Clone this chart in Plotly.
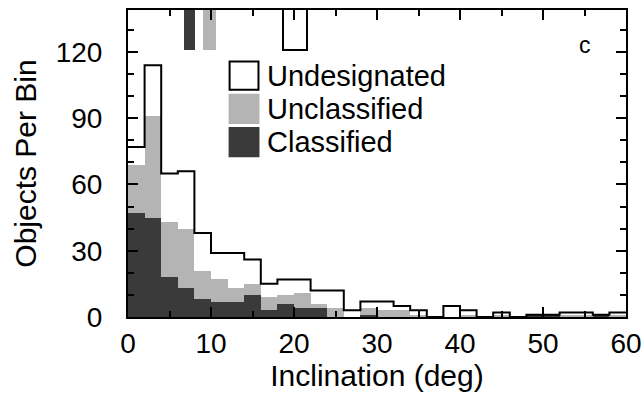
import numpy as np
import plotly.graph_objects as go

# ---- data (2-degree inclination bins, 0..60 deg) ----
bin_left = list(range(0, 60, 2))
total_counts = [77, 114, 65, 66, 38, 29, 29, 26, 15, 17, 17, 12, 12, 3, 7,
                7, 5, 3, 0, 5, 3, 0, 2, 0, 1, 1, 2, 2, 1, 2]          # Undesignated (envelope)
unclassified_top = [69, 91, 43, 40, 21, 17, 13, 15, 9, 10, 11, 6, 4, 0, 4,
                    3, 3, 1, 0, 0, 1, 0, 1, 0, 1, 1, 1, 1, 1, 1]      # Classified + Unclassified
classified_counts = [47, 45, 18, 13, 8, 7, 7, 10, 3, 6, 4, 4, 0, 0, 1,
                     0, 0, 0, 0, 0, 0, 0, 0, 0, 1, 1, 0, 0, 1, 0]

# small marks hanging from the top frame
top_mark_left = [6.7, 9.0, 18.7]
top_mark_right = [8.05, 10.55, 21.6]
top_mark_base = 121
top_mark_colors = ["#3a3a3a", "#b4b4b4", "white"]

legend_labels = ["Undesignated", "Unclassified", "Classified"]
panel_label = "c"

DARK = "#3a3a3a"
GRAY = "#b4b4b4"
FONT = "Liberation Sans, Arial, Helvetica, sans-serif"

bin_w = 2
centers = [b + bin_w / 2 for b in bin_left]

fig = go.Figure()

fig.add_trace(go.Bar(x=centers, y=unclassified_top, width=bin_w,
                     marker=dict(color=GRAY, line=dict(width=0)), showlegend=False))
fig.add_trace(go.Bar(x=centers, y=classified_counts, width=bin_w,
                     marker=dict(color=DARK, line=dict(width=0)), showlegend=False))

# envelope step outline of the total (undesignated) histogram
edges = bin_left + [bin_left[-1] + bin_w]
fig.add_trace(go.Scatter(x=edges, y=total_counts + [total_counts[-1]],
                         mode="lines", line=dict(shape="hv", color="black", width=2),
                         showlegend=False))

# marks at top
tm_c = [(a + b) / 2 for a, b in zip(top_mark_left, top_mark_right)]
tm_w = [b - a for a, b in zip(top_mark_left, top_mark_right)]
for c, w, col in zip(tm_c, tm_w, top_mark_colors):
    fig.add_trace(go.Bar(x=[c], y=[30], base=top_mark_base, width=w,
                         marker=dict(color=col,
                                     line=dict(width=2 if col == "white" else 0, color="black")),
                         showlegend=False))

# manual legend
sw_x0, sw_x1 = 0.204, 0.262
sw_tops = [0.832, 0.724, 0.616]
sw_h = 0.092
fills = ["white", GRAY, DARK]
for top, fill, lab in zip(sw_tops, fills, legend_labels):
    fig.add_shape(type="rect", xref="paper", yref="paper", x0=sw_x0, x1=sw_x1,
                  y0=top - sw_h, y1=top, fillcolor=fill,
                  line=dict(color="black" if fill == "white" else fill, width=2))
    fig.add_annotation(xref="paper", yref="paper", x=0.276, y=top - sw_h / 2,
                       text=lab, showarrow=False, xanchor="left", yanchor="middle",
                       font=dict(family=FONT, size=29, color="black"))

fig.add_annotation(xref="paper", yref="paper", x=0.918, y=0.885, text=panel_label,
                   showarrow=False, xanchor="center", yanchor="middle",
                   font=dict(family=FONT, size=23, color="black"))

axis_common = dict(showline=True, linewidth=2, linecolor="black", mirror="ticks",
                   ticks="inside", tickcolor="black", tickwidth=1.5, ticklen=10,
                   showgrid=False, zeroline=False, automargin=False,
                   tickfont=dict(family=FONT, size=28, color="black"))

fig.update_layout(
    width=644, height=395,
    margin=dict(l=128, r=18, t=10, b=78),
    paper_bgcolor="white", plot_bgcolor="white",
    barmode="overlay", bargap=0,
    showlegend=False,
    xaxis=dict(range=[0, 60], dtick=10, tick0=0,
               minor=dict(dtick=5, ticks="inside", ticklen=6, tickcolor="black", tickwidth=1.5),
               ticklabelstandoff=0,
               title=dict(text="Inclination (deg)", standoff=2,
                          font=dict(family=FONT, size=30, color="black")),
               **axis_common),
    yaxis=dict(range=[0, 139], dtick=30, tick0=0,
               minor=dict(dtick=10, ticks="inside", ticklen=6, tickcolor="black", tickwidth=1.5),
               ticklabelstandoff=18,
               title=dict(text="Objects Per Bin", standoff=10,
                          font=dict(family=FONT, size=30, color="black")),
               **axis_common),
)

fig.write_html("out.html", config={"displayModeBar": False},
               post_script="document.body.style.margin='0';document.body.style.overflow='hidden';")
